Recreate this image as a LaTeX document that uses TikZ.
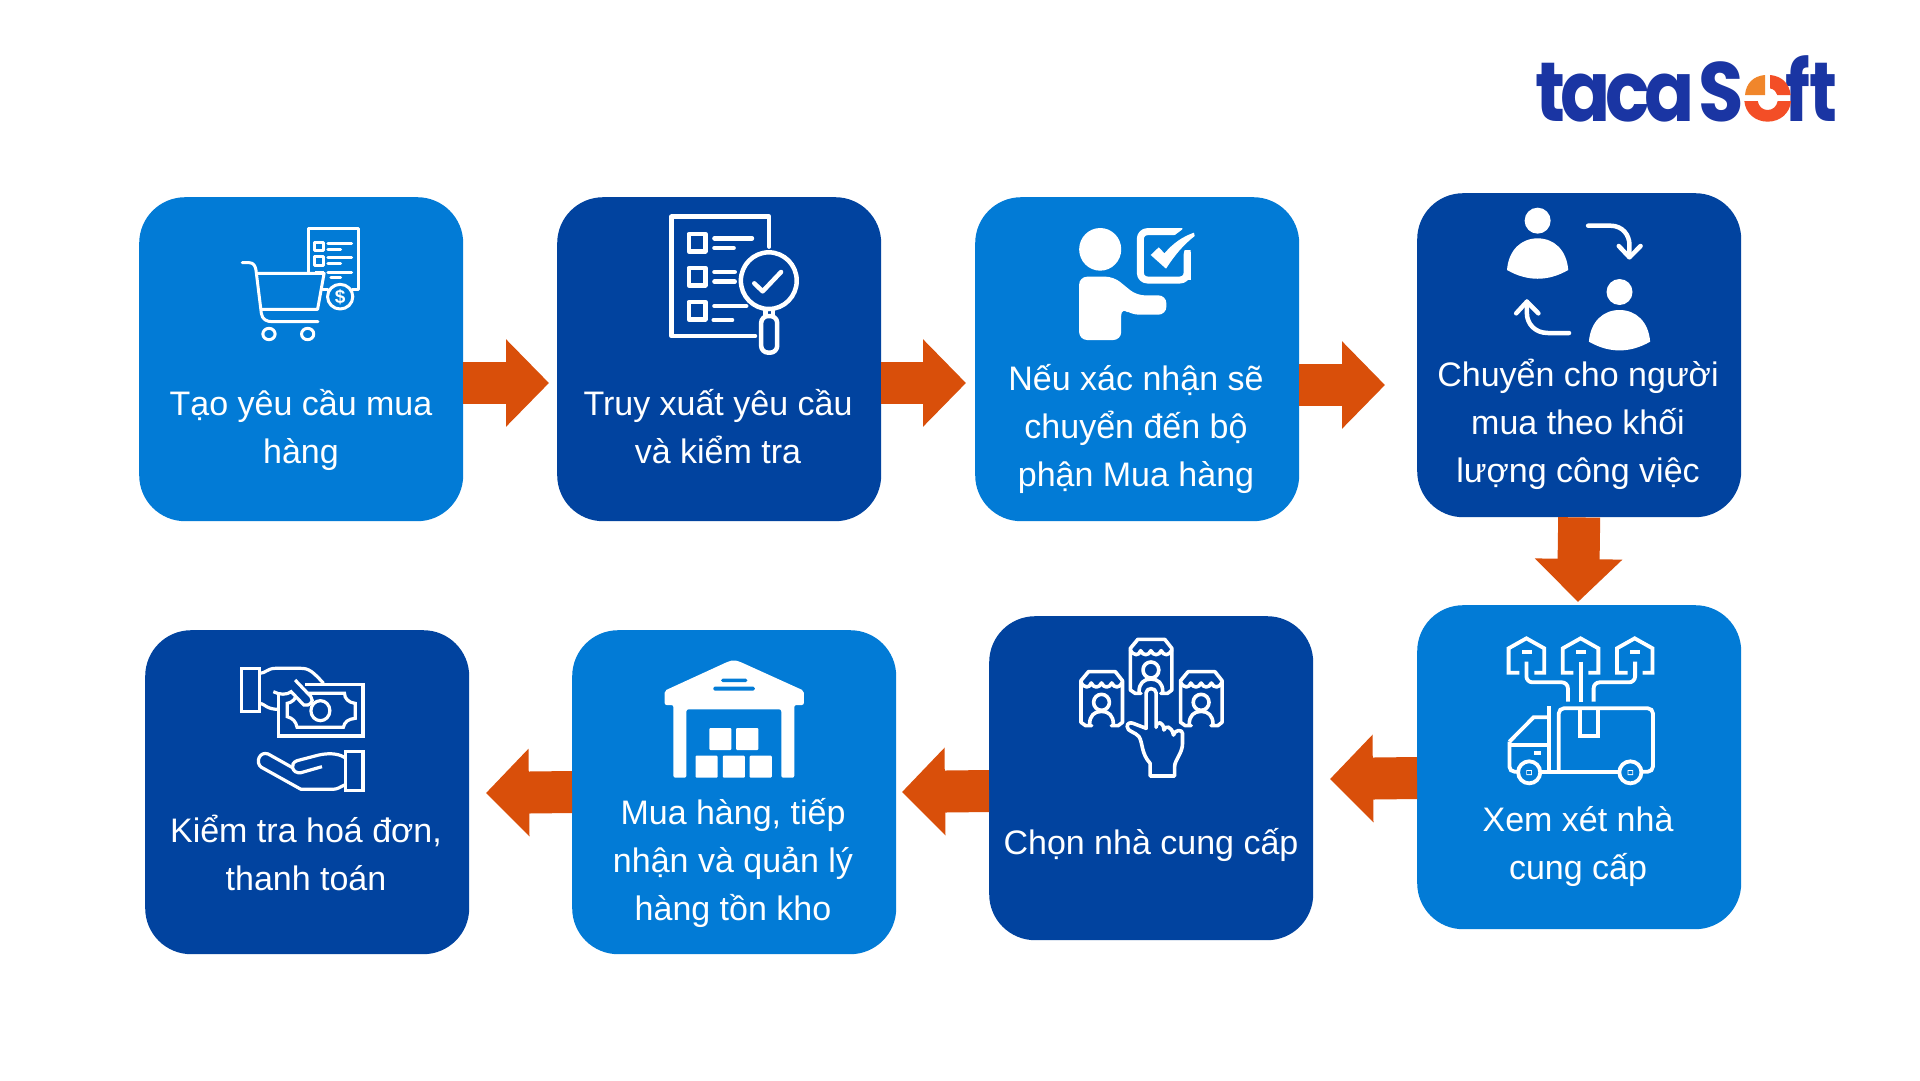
\documentclass[tikz,border=0pt]{standalone}
\usepackage{fontspec}
\setmainfont{Liberation Sans}
\newfontfamily\logofont{Poppins}[UprightFont=* Bold]
\usetikzlibrary{arrows.meta}
\definecolor{lightbox}{HTML}{027BD6}
\definecolor{darkbox}{HTML}{01439F}
\definecolor{arrowc}{HTML}{D94F0A}
\definecolor{logoblue}{HTML}{1A35A3}
\definecolor{logoorange}{HTML}{F0862B}
\definecolor{logored}{HTML}{F34E26}
\tikzset{
 card/.style={rounded corners=46pt,minimum width=324pt,minimum height=324pt,inner sep=0pt,anchor=north west},
 lightcard/.style={card,fill=lightbox},
 darkcard/.style={card,fill=darkbox},
 cardtext/.style={text=white,align=center,inner sep=0pt,font=\fontsize{34}{48}\selectfont},
 flow/.style={draw=arrowc,line width=42pt,-{Triangle[length=43pt,width=85pt]}},
 ic/.style={draw=white,line width=#1,line cap=round,line join=round},
 ic/.default=3pt,
 zoomA/.style={x=0.38270pt,y=-0.33333pt},
 zoomB/.style={x=0.39526pt,y=-0.33333pt},
 logotext/.style={inner sep=0pt,text=logoblue,font=\fontsize{84}{84}\logofont},
}
\begin{document}
\begin{tikzpicture}[x=1pt,y=-1pt]
\useasboundingbox (0,0) rectangle (1920,1080);
\fill[white] (0,0) rectangle (1920,1080);

% cards
\node[lightcard] (b1) at (139,197) {};
\node[darkcard]  (b2) at (557,197) {};
\node[lightcard] (b3) at (975,197) {};
\node[darkcard]  (b4) at (1417,193) {};
\node[lightcard] (b5) at (1417,605) {};
\node[darkcard]  (b6) at (989,616) {};
\node[lightcard] (b7) at (572,630) {};
\node[darkcard]  (b8) at (145,630) {};

% flow arrows
\coordinate (t1) at (549,383);
\coordinate (t2) at (966,383);
\coordinate (t3) at (1385,385);
\coordinate (t4) at (1578,602);
\coordinate (t5) at (1330,779);
\coordinate (t6) at (902,792);
\coordinate (t7) at (486,793);
\draw[flow] (b1.east |- t1) -- (t1);
\draw[flow] (b2.east |- t2) -- (t2);
\draw[flow] (b3.east |- t3) -- (t3);
\draw[flow] (b4.south) -- (t4);
\draw[flow] (b5.west |- 0,778) -- (t5);
\draw[flow] (b6.west |- 0,791) -- (t6);
\draw[flow] (b7.west |- 0,792) -- (t7);

% texts
\node[cardtext] (l1) at (301,429.4) {\strut Tạo yêu cầu mua\\\strut hàng};
\node[cardtext] (l2) at (718,429.4) {\strut Truy xuất yêu cầu\\\strut và kiểm tra};
\node[cardtext] (l3) at (1136,428.8) {\strut Nếu xác nhận sẽ\\\strut chuyển đến bộ\\\strut phận Mua hàng};
\node[cardtext] (l4) at (1578,424.4) {\strut Chuyển cho người\\\strut mua theo khối\\\strut lượng công việc};
\node[cardtext] (l5) at (1578,845.6) {\strut Xem xét nhà\\\strut cung cấp};
\node[cardtext] (l6) at (1151,845) {\strut Chọn nhà cung cấp};
\node[cardtext] (l7) at (733,862.4) {\strut Mua hàng, tiếp\\\strut nhận và quản lý\\\strut hàng tồn kho};
\node[cardtext] (l8) at (306,856.4) {\strut Kiểm tra hoá đơn,\\\strut thanh toán};

% icons 1 and 2
\begin{scope}[shift={(220,210)},zoomA]
 \begin{scope}[ic=3pt]
  \draw (58,158) -- (76,158) .. controls (88,158) and (92,168) .. (94,180) -- (108,310) .. controls (110,328) and (122,335) .. (136,335) -- (256,335);
  \draw (97,190) -- (272,190) -- (255,298) -- (110,298);
  \draw (128,372) circle [x radius=16,y radius=17];
  \draw (229,372) circle [x radius=16,y radius=17];
  \draw (232,185) -- (232,56) -- (363,56) -- (363,238) -- (345,238);
  \draw (268,238) -- (282,238);
  \draw (248,96) rectangle (270,122);
  \draw (248,139) rectangle (270,165);
  \draw (282,100) -- (344,100) (282,117) -- (315,117) (282,143) -- (344,143) (282,160) -- (315,160) (282,186) -- (344,186) (290,203) -- (315,203);
  \draw (314,260) circle [x radius=33,y radius=37];
  \fill[white] (247,182) rectangle (272,192);
 \end{scope}
 \node[text=white,font=\fontsize{19}{19}\selectfont\bfseries,inner sep=0pt] (dollar) at (314,260) {\$};
 \begin{scope}[ic=4.5pt]
  \draw (1435,110) -- (1435,20) -- (1180,20) -- (1180,378) -- (1398,378);
  \draw (1225,72) rectangle (1268,124);
  \draw (1225,174) rectangle (1268,226);
  \draw (1225,276) rectangle (1268,328);
  \draw (1292,85) -- (1390,85) (1292,114) -- (1342,114) (1292,186) -- (1345,186) (1292,215) -- (1345,215) (1292,288) -- (1375,288) (1290,330) -- (1338,330);
  \draw (1434,212) circle [x radius=73,y radius=85];
  \draw (1396,220) -- (1418,244) -- (1466,186);
  \draw (1425,298) -- (1425,318) (1445,298) -- (1445,318);
  \draw[rounded corners=7pt] (1414,318) rectangle (1456,428);
 \end{scope}
\end{scope}

% icons 3 and 4
\begin{scope}[shift={(1060,190)},zoomA]
 \fill[white] (105,178) circle [x radius=55,y radius=64];
 \fill[white,rounded corners=8pt] (50,450) -- (50,260) -- (140,260) -- (200,316) -- (278,316) -- (278,374) -- (185,374) -- (160,352) -- (160,450) -- cycle;
 \draw[ic=7pt,line cap=butt,rounded corners=7pt] (320,125) -- (210,125) -- (210,270) -- (332,270) -- (332,180);
 \fill[lightbox] (295,140) -- (332,108) -- (350,120) -- (330,165) -- (318,205) -- (300,205) -- cycle;
 \fill[white] (237,195) -- (258,172) -- (273,190) .. controls (295,160) and (320,140) .. (350,128) -- (352,138) .. controls (322,165) and (300,195) .. (277,236) -- cycle;
 \draw[white,line width=7pt] (332,270) -- (332,186);
 \fill[white] (1248,92) circle [x radius=34,y radius=39];
 \fill[white] (1168,240) .. controls (1172,180) and (1205,145) .. (1248,145) .. controls (1291,145) and (1324,180) .. (1328,240) .. controls (1275,275) and (1221,275) .. cycle;
 \fill[white] (1462,306) circle [x radius=34,y radius=39];
 \fill[white] (1382,455) .. controls (1386,395) and (1419,360) .. (1462,360) .. controls (1505,360) and (1538,395) .. (1542,455) .. controls (1489,490) and (1435,490) .. cycle;
 \begin{scope}[ic=4.5pt]
  \draw (1380,107) -- (1438,107) .. controls (1470,107) and (1488,135) .. (1488,165) -- (1488,200);
  \draw (1460,168) -- (1488,202) -- (1517,168);
  \draw (1330,429) -- (1275,429) .. controls (1240,429) and (1220,400) .. (1220,370) -- (1220,335);
  \draw (1192,370) -- (1220,335) -- (1250,370);
 \end{scope}
\end{scope}

% icons 5 and 6
\begin{scope}[shift={(1060,620)},zoomB]
 \begin{scope}[ic=3.8pt,line cap=butt,line join=miter]
  \foreach \dx in {0,137,274} {
   \draw[xshift=\dx*0.39526pt] (1162,158) -- (1135,158) -- (1135,85) -- (1180,55) -- (1225,85) -- (1225,158) -- (1200,158);
   \fill[white,xshift=\dx*0.39526pt] (1168,90) rectangle (1194,102);
  }
  \draw[rounded corners=6pt] (1180,125) -- (1180,187) -- (1285,187) -- (1285,245);
  \draw (1318,125) -- (1318,245);
  \draw[rounded corners=6pt] (1455,125) -- (1455,187) -- (1350,187) -- (1350,245);
  \draw[rounded corners=5pt] (1262,450) -- (1262,265) -- (1500,265) -- (1500,455) -- (1470,455);
  \draw (1415,455) -- (1215,455);
  \draw (1315,268) -- (1315,348) -- (1362,348) -- (1362,268);
  \draw (1237,258) -- (1237,452);
  \draw (1235,292) -- (1198,292) -- (1137,365);
  \draw[rounded corners=5pt] (1137,365) -- (1137,455) -- (1160,455);
  \draw (1137,375) -- (1235,375);
  \fill[white] (1200,392) rectangle (1218,406);
  \draw (1187,457) circle [x radius=28,y radius=33];
  \draw (1443,457) circle [x radius=28,y radius=33];
  \fill[white] (1180,450) rectangle (1194,465) (1436,450) rectangle (1450,465);
 \end{scope}
 \fill[lightbox] (1182,453) rectangle (1192,462) (1438,453) rectangle (1448,462);
 \foreach \sx/\sy in {-125/97,0/0,127/97} {
  \begin{scope}[ic=3.6pt,xshift=\sx*0.39526pt,yshift=-\sy*0.33333pt]
   \draw (205,220) -- (190,220) -- (178,210) -- (178,85) -- (197,58) -- (265,58) -- (283,85) -- (283,210) -- (272,220) -- (255,220);
   \draw (178,90) .. controls (186,108) and (200,108) .. (204,92) .. controls (210,108) and (224,108) .. (230,92) .. controls (236,108) and (250,108) .. (256,92) .. controls (262,108) and (276,108) .. (283,90);
   \draw (230,150) circle [x radius=20,y radius=24];
   \draw (200,215) .. controls (200,190) and (212,177) .. (230,177) .. controls (248,177) and (260,190) .. (260,215);
  \end{scope}
 }
 \fill[darkbox] (212,205) rectangle (248,335);
 \draw[ic=3.6pt] (185,310) -- (218,325) -- (218,218) .. controls (218,202) and (243,202) .. (243,218) -- (243,322) .. controls (245,300) and (262,305) .. (263,330) .. controls (266,315) and (283,318) .. (287,345) .. controls (290,328) and (310,328) .. (310,340) -- (310,370) .. controls (310,400) and (290,420) .. (290,440) -- (290,468) -- (228,468) -- (228,430) .. controls (205,400) and (210,370) .. (200,350) .. controls (190,335) and (170,335) .. (170,320) .. controls (170,308) and (178,307) .. (185,310);
\end{scope}

% icons 7 and 8
\begin{scope}[shift={(220,650)},zoomB]
 \begin{scope}[ic=3.2pt,line cap=butt,line join=miter]
  \draw (55,55) rectangle (100,185);
  \draw (100,70) .. controls (115,70) and (120,55) .. (140,55) -- (205,55) .. controls (225,55) and (235,65) .. (262,100);
  \draw (103,160) .. controls (115,165) and (120,178) .. (148,178);
  \draw (215,103) -- (362,103) -- (362,258) -- (148,258) -- (148,135);
  \draw (222,130) -- (315,130) .. controls (315,145) and (325,158) .. (342,160) -- (342,205) .. controls (325,207) and (315,215) .. (312,232) -- (195,232) .. controls (192,215) and (185,205) .. (170,200) -- (170,160) .. controls (180,158) and (188,150) .. (190,143);
  \draw (254,182) circle [x radius=24,y radius=30];
  \draw (190,90) -- (230,140) .. controls (240,155) and (225,170) .. (212,165) -- (180,125) .. controls (170,135) and (150,135) .. (135,125);
  \draw (318,304) rectangle (362,422);
  \draw (315,322) .. controls (295,308) and (270,310) .. (250,315) -- (195,332) .. controls (175,340) and (182,372) .. (205,368) -- (258,350);
  \draw (182,352) -- (122,312) .. controls (100,302) and (88,338) .. (105,352) -- (205,418) -- (285,418) .. controls (298,418) and (305,410) .. (315,405);
 \end{scope}
 \fill[white,rounded corners=2pt] (1125,122) -- (1285,35) -- (1300,30) -- (1315,35) -- (1477,122) -- (1477,165) -- (1453,165) -- (1453,383) -- (1420,383) -- (1420,178) -- (1180,178) -- (1180,383) -- (1147,383) -- (1147,165) -- (1125,165) -- cycle;
 \fill[lightbox,rounded corners=1.5pt] (1268,86) rectangle (1334,96) (1248,110) rectangle (1353,122);
 \fill[white,rounded corners=1pt] (1238,234) rectangle (1294,300) (1306,234) rectangle (1362,300) (1203,317) rectangle (1259,383) (1272,317) rectangle (1328,383) (1340,317) rectangle (1396,383);
\end{scope}

% logo
\node[logotext,anchor=base west] (logoa) at (1535,121) {\scalebox{0.88}[1]{\addfontfeature{LetterSpace=-7}taca}};
\node[logotext,anchor=base] (logob) at (1721,121) {\scalebox{0.88}[1]{S}};
\node[logotext,anchor=base east] (logoc) at (1838,121) {\scalebox{0.82}[1]{ft}};
\begin{scope}[shift={(1500,30)},x=0.33333pt,y=-0.33333pt]
 \fill[logoorange] (795,195) -- (735,195) .. controls (738,160) and (760,138) .. (795,135) -- cycle;
 \fill[logored] (810,135) .. controls (845,138) and (868,160) .. (872,195) -- (832,195) .. controls (830,185) and (822,178) .. (810,175) -- cycle;
 \fill[logored] (733,213) -- (773,213) .. controls (776,230) and (788,240) .. (803,240) .. controls (818,240) and (830,230) .. (833,213) -- (873,213) .. controls (870,250) and (840,275) .. (803,275) .. controls (766,275) and (736,250) .. (733,213) -- cycle;
\end{scope}
\end{tikzpicture}
\end{document}
